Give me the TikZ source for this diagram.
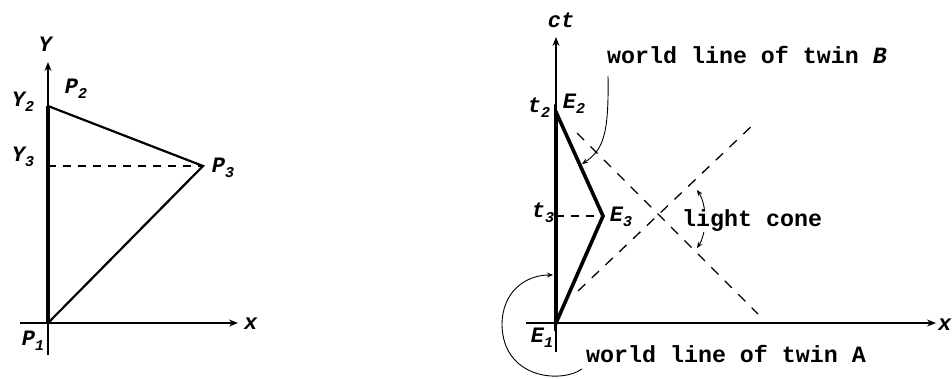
\documentclass[tikz,border=0pt]{standalone}
\usepackage{fontspec}
\setmainfont{Liberation Mono}
\usetikzlibrary{arrows.meta}
\newcommand{\lb}[2]{\textbf{\textit{#1\raisebox{-0.45ex}{\fontsize{15}{15}\selectfont #2}}}}
\begin{document}
\begin{tikzpicture}[x=1pt,y=-1pt,
  font=\fontsize{22}{22}\selectfont\bfseries,
  axis/.style={line width=1.1pt,-{Stealth[length=9pt,width=7pt]}},
  wl/.style={line width=3.6pt,line join=miter},
  side/.style={line width=2.2pt,line join=miter},
  dsh/.style={line width=1.3pt,dash pattern=on 8pt off 7pt},
  cone/.style={line width=1.3pt,dash pattern=on 10pt off 9pt},
  note/.style={line width=0.9pt,-{Stealth[length=6pt,width=5pt]}},
  lab/.style={inner sep=0pt},
  txt/.style={inner sep=0pt,font=\fontsize{23.3}{23.3}\selectfont\bfseries}]
\useasboundingbox (0,0) rectangle (952,378);
% ---------- left diagram ----------
\coordinate (P1) at (48,323);
\coordinate (P2) at (48,106);
\coordinate (P3) at (203,166);
\coordinate (Y3) at (48,166);
\coordinate (yb) at (48,355);
\coordinate (yt) at (48,62);
\coordinate (xl) at (20,323);
\coordinate (xr) at (238,323);
\draw[axis] (yb) -- (yt);
\draw[axis] (xl) -- (xr);
\draw[wl] (P1) -- (P2);
\draw[side] (P2) -- (P3) -- (P1);
\draw[dsh] (Y3) -- (P3);
\node[lab] (ylab) at (46,44) {\textit{Y}};
\node[lab] (y2lab) at (23,102) {\lb{Y}{2}};
\node[lab] (y3lab) at (23,157) {\lb{Y}{3}};
\node[lab] (p2lab) at (76,89) {\lb{P}{2}};
\node[lab] (p3lab) at (223,168) {\lb{P}{3}};
\node[lab] (p1lab) at (33,341) {\lb{P}{1}};
\node[lab] (xlab) at (251,324) {\textit{x}};
% ---------- right diagram ----------
\coordinate (E1) at (556,323);
\coordinate (E2) at (556,112);
\coordinate (E3) at (603,216);
\coordinate (T3) at (556,216);
\coordinate (ctb) at (556,352);
\coordinate (ctt) at (556,37);
\coordinate (xl2) at (526,323);
\coordinate (xr2) at (936,323);
\coordinate (c1a) at (577,133);
\coordinate (c1b) at (758,314);
\coordinate (c2a) at (578,291);
\coordinate (c2b) at (756,122);
\draw[axis] (ctb) -- (ctt);
\draw[axis] (xl2) -- (xr2);
\draw[cone] (c1a) -- (c1b);
\draw[cone] (c2a) -- (c2b);
\draw[dsh] (T3) -- (E3);
\draw[wl] (E1) -- (E2) -- (E3) -- cycle;
\node[lab] (ctlab) at (561,20) {\textit{ct}};
\node[lab] (t2lab) at (539,108) {\lb{t}{2}};
\node[lab] (e2lab) at (574,104) {\lb{E}{2}};
\node[lab] (t3lab) at (543,213) {\lb{t}{3}};
\node[lab] (e3lab) at (621,217) {\lb{E}{3}};
\node[lab] (e1lab) at (542,338) {\lb{E}{1}};
\node[lab] (x2lab) at (945,325) {\textit{x}};
% world line of twin B
\node[txt,anchor=west] (twinB) at (607,55) {world line of twin \textit{B}};
\coordinate (bs) at (608,76);
\coordinate (be) at (582,164);
\draw[note] (bs) .. controls (609,135) and (603,150) .. (be);
% light cone
\coordinate (la) at (697,190);
\coordinate (lc) at (697,248);
\draw[note,{Stealth[length=6pt,width=5pt]}-{Stealth[length=6pt,width=5pt]}] (la) .. controls (707,205) and (707,233) .. (lc);
\node[txt,anchor=west,fill=white,inner xsep=1pt] (cone) at (681,221) {light cone};
% world line of twin A
\node[txt,anchor=west] (twinA) at (586,354) {world line of twin A};
\coordinate (as) at (582,369);
\coordinate (ae) at (553,275);
\draw[note] (as) .. controls (560,384) and (503,378) .. (502,325) .. controls (502,292) and (525,275) .. (ae);
\end{tikzpicture}
\end{document}
